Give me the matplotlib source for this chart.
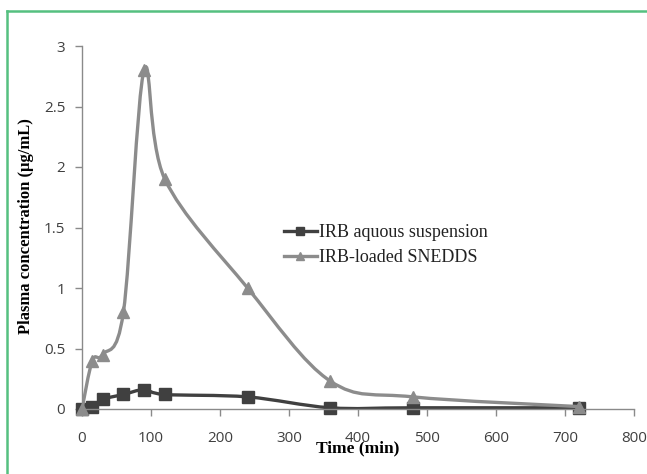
import matplotlib
matplotlib.use('Agg')
import matplotlib.pyplot as plt
import numpy as np
from matplotlib.path import Path
from matplotlib.patches import PathPatch
from matplotlib.lines import Line2D
from matplotlib.ticker import FormatStrFormatter

time_min = [0, 15, 30, 60, 90, 120, 240, 360, 480, 720]
aqueous = [0, 0.02, 0.08, 0.12, 0.16, 0.12, 0.10, 0.01, 0.01, 0.01]
snedds = [0, 0.40, 0.45, 0.80, 2.80, 1.90, 1.00, 0.23, 0.10, 0.02]
labels = ['IRB aquous suspension', 'IRB-loaded SNEDDS']
colors = ['#404040', '#8c8c8c']


def smooth_path(x, y):
    # Excel-like smoothed line: Catmull-Rom segments as cubic Bezier curves
    pts = np.column_stack([x, y]).astype(float)
    verts = [pts[0]]
    codes = [Path.MOVETO]
    n = len(pts)
    for i in range(n - 1):
        p0 = pts[max(i - 1, 0)]
        p1 = pts[i]
        p2 = pts[i + 1]
        p3 = pts[min(i + 2, n - 1)]
        c1 = p1 + (p2 - p0) / 6.0
        c2 = p2 - (p3 - p1) / 6.0
        verts += [c1, c2, p2]
        codes += [Path.CURVE4] * 3
    return Path(verts, codes)


fig = plt.figure(figsize=(6.47, 4.74), dpi=100)
ax = fig.add_axes([82 / 647, 1 - 409 / 474, (634 - 82) / 647, (409 - 46) / 474])

series = [(aqueous, 's', 9), (snedds, '^', 9)]
for k, (vals, mk, ms) in enumerate(series):
    patch = PathPatch(smooth_path(time_min, vals), facecolor='none',
                      edgecolor=colors[k], lw=2.4, zorder=2 + k, capstyle='round')
    ax.add_patch(patch)
    ax.plot(time_min, vals, linestyle='none', marker=mk, markersize=ms,
            color=colors[k], zorder=2 + k, clip_on=False)

ax.set_xlim(0, 800)
ax.set_ylim(0, 3)
ax.set_xticks(np.arange(0, 801, 100))
ax.set_yticks(np.arange(0, 3.01, 0.5))
ax.yaxis.set_major_formatter(FormatStrFormatter('%g'))
for s in ['top', 'right']:
    ax.spines[s].set_visible(False)
for s in ['left', 'bottom']:
    ax.spines[s].set_color('#8a8a8a')
    ax.spines[s].set_linewidth(1.0)
ax.tick_params(axis='both', colors='#8a8a8a', length=5, width=1.0,
               labelcolor='#404040', labelsize=11)
ax.tick_params(axis='x', pad=11)
ax.tick_params(axis='y', pad=7)
for lab in ax.get_xticklabels() + ax.get_yticklabels():
    lab.set_family('Open Sans')

fig.text(358 / 647, 1 - 448 / 474, 'Time (min)', ha='center', va='center',
         family='Liberation Serif', fontweight='bold', fontsize=12.5)
fig.text(26 / 647, 1 - 226 / 474, 'Plasma concentration (μg/mL)', ha='center',
         va='center', rotation=90, family='Liberation Serif', fontweight='bold',
         fontsize=12)

handles = [Line2D([], [], color=colors[0], lw=2.4, marker='s', markersize=5.5),
           Line2D([], [], color=colors[1], lw=2.4, marker='^', markersize=5.5)]
leg = ax.legend(handles, labels, loc='upper left',
                bbox_to_anchor=(284 / 647, 1 - 224 / 474),
                bbox_transform=fig.transFigure, frameon=False,
                prop={'family': 'Liberation Serif', 'size': 13},
                handlelength=1.8, handletextpad=0.15, labelspacing=0.45,
                borderpad=0, borderaxespad=0)
for t in leg.get_texts():
    t.set_color('#222222')

# green frame of the figure panel
fig.add_artist(Line2D([7 / 647, 1], [1 - 11 / 474, 1 - 11 / 474],
                      transform=fig.transFigure, color='#55c080', lw=1.8))
fig.add_artist(Line2D([7 / 647, 7 / 647], [1 - 11 / 474, 0],
                      transform=fig.transFigure, color='#55c080', lw=1.8))

fig.savefig('out.png', dpi=100)
